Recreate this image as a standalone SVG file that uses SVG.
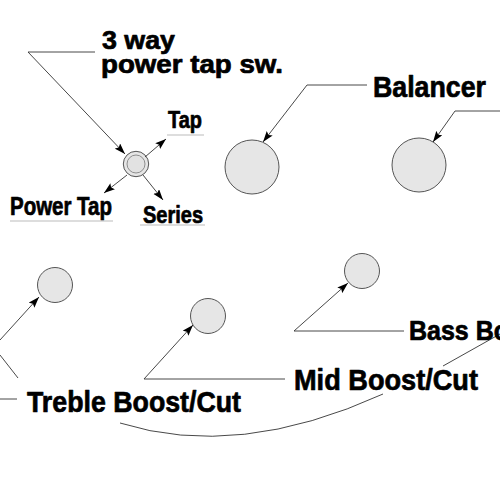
<svg xmlns="http://www.w3.org/2000/svg" width="500" height="500" viewBox="0 0 500 500">
<style>
.lbl{font-family:"Liberation Sans","DejaVu Sans",Arial,sans-serif;font-weight:bold;fill:#000;stroke:#000;stroke-width:0.7;stroke-linejoin:round}
.ln{fill:none;stroke:#333;stroke-width:0.9}
.ul{fill:none;stroke:#aaa;stroke-width:0.8}
.knob{fill:#e6e6e6;stroke:#555;stroke-width:1}
</style>
<defs>
<marker id="ah" markerUnits="userSpaceOnUse" markerWidth="12" markerHeight="8" refX="11" refY="3.75" orient="auto">
<path d="M0,0 L11,3.75 L0,7.5 L2,3.75 z" fill="#000"/>
</marker>
</defs>
<rect width="500" height="500" fill="#fff"/>

<g id="switch">
<circle class="knob" cx="136" cy="164" r="12.7"/>
<circle cx="136" cy="164" r="9" fill="#e2e2e2" stroke="#777" stroke-width="0.8"/>
</g>
<g id="balancer-knob-1"><circle class="knob" cx="252" cy="167" r="27"/></g>
<g id="balancer-knob-2"><circle class="knob" cx="419" cy="165" r="27"/></g>
<g id="treble-knob"><circle class="knob" cx="55" cy="285" r="17.5"/></g>
<g id="mid-knob"><circle class="knob" cx="208" cy="316" r="17.5"/></g>
<g id="bass-knob"><circle class="knob" cx="362" cy="271" r="17.5"/></g>

<g id="connectors">
<polyline class="ln" points="95,52 28,52 125,154" marker-end="url(#ah)"/>
<line class="ln" x1="145" y1="157" x2="166" y2="139" marker-end="url(#ah)"/>
<line class="ln" x1="127" y1="175" x2="104" y2="193" marker-end="url(#ah)"/>
<line class="ln" x1="143" y1="175" x2="163" y2="200" marker-end="url(#ah)"/>
<polyline class="ln" points="367,85 307,85 263,142" marker-end="url(#ah)"/>
<polyline class="ln" points="500,111 455,111 433,142" marker-end="url(#ah)"/>
<line class="ln" x1="0" y1="340" x2="39" y2="297" marker-end="url(#ah)"/>
<line class="ln" x1="0" y1="355" x2="18" y2="378"/>
<line class="ln" x1="0" y1="399" x2="17" y2="399"/>
<polyline class="ln" points="285,379 144,379 193,325" marker-end="url(#ah)"/>
<polyline class="ln" points="404,331 294,331 348,283" marker-end="url(#ah)"/>
<path class="ln" d="M120,423 Q238,460 383,394"/>
<line class="ln" x1="443" y1="366" x2="500" y2="334"/>
<line class="ul" x1="167" y1="135" x2="204" y2="135"/>
<line class="ul" x1="10" y1="221" x2="113" y2="221"/>
<line class="ul" x1="140" y1="225" x2="205" y2="225"/>
</g>

<g id="labels">
<text class="lbl" x="102" y="49" font-size="25" textLength="73" lengthAdjust="spacingAndGlyphs">3 way</text>
<text class="lbl" x="101" y="73" font-size="25" textLength="182" lengthAdjust="spacingAndGlyphs">power tap sw.</text>
<text class="lbl" x="373" y="97" font-size="30" textLength="113" lengthAdjust="spacingAndGlyphs">Balancer</text>
<text class="lbl" x="168" y="128" font-size="24" textLength="34" lengthAdjust="spacingAndGlyphs">Tap</text>
<text class="lbl" x="10" y="215" font-size="25" textLength="102" lengthAdjust="spacingAndGlyphs">Power Tap</text>
<text class="lbl" x="143" y="223" font-size="23" textLength="60" lengthAdjust="spacingAndGlyphs">Series</text>
<text class="lbl" x="27" y="412" font-size="30" textLength="214" lengthAdjust="spacingAndGlyphs">Treble Boost/Cut</text>
<text class="lbl" x="294" y="390" font-size="30" textLength="184" lengthAdjust="spacingAndGlyphs">Mid Boost/Cut</text>
<text class="lbl" x="409" y="340" font-size="27" textLength="186" lengthAdjust="spacingAndGlyphs">Bass Boost/Cut</text>
</g>
</svg>
